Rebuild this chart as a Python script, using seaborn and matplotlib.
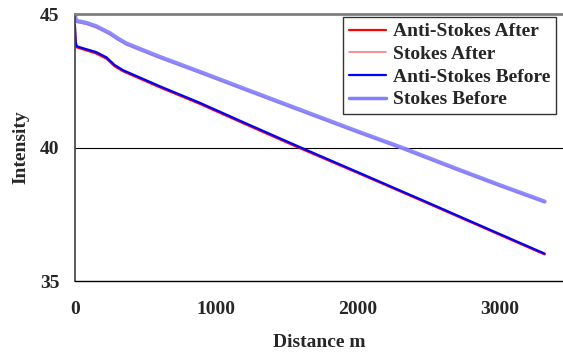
import matplotlib
matplotlib.use("Agg")
import matplotlib.pyplot as plt
import seaborn as sns
import pandas as pd

# Distance along the fibre (m) and intensity readings for each trace
dist_as = [0, 5, 12, 60, 150, 224, 280, 341, 600, 883, 1200, 1590, 2000, 2500, 3000, 3320]
anti_stokes_before = [44.6, 44.0, 43.8, 43.72, 43.58, 43.38, 43.1, 42.9, 42.3, 41.68,
                      40.93, 40.02, 39.08, 37.93, 36.77, 36.03]
anti_stokes_after = [44.55, 43.96, 43.76, 43.68, 43.53, 43.33, 43.05, 42.86, 42.26, 41.64,
                     40.89, 39.98, 39.05, 37.9, 36.74, 36.0]

dist_s = [0, 10, 40, 83, 150, 247, 300, 365, 600, 883, 1200, 1600, 2000, 2300, 2700, 3000, 3320]
stokes_before = [44.95, 44.75, 44.72, 44.67, 44.55, 44.29, 44.1, 43.9, 43.4, 42.84,
                 42.2, 41.4, 40.6, 40.02, 39.2, 38.6, 37.98]
stokes_after = [44.9, 44.7, 44.67, 44.62, 44.5, 44.24, 44.05, 43.85, 43.35, 42.8,
                42.16, 41.36, 40.57, 39.99, 39.17, 38.57, 37.95]

series = ["Anti-Stokes After", "Stokes After", "Anti-Stokes Before", "Stokes Before"]
frames = [
    pd.DataFrame({"d": dist_as, "v": anti_stokes_after, "s": series[0]}),
    pd.DataFrame({"d": dist_s, "v": stokes_after, "s": series[1]}),
    pd.DataFrame({"d": dist_as, "v": anti_stokes_before, "s": series[2]}),
    pd.DataFrame({"d": dist_s, "v": stokes_before, "s": series[3]}),
]
df = pd.concat(frames, ignore_index=True)

sns.set_style("white")
plt.rcParams["font.family"] = ["Liberation Serif", "DejaVu Serif"]
plt.rcParams["font.weight"] = "bold"

FS = 14

palette = {"Anti-Stokes After": "#ff0000", "Stokes After": "#ff7a7a",
           "Anti-Stokes Before": "#0000ff", "Stokes Before": "#8080ff"}
widths = {"Anti-Stokes After": 1.6, "Stokes After": 1.2,
          "Anti-Stokes Before": 1.6, "Stokes Before": 3.0}

fig = plt.figure(figsize=(5.63, 3.54), dpi=100)
ax = fig.add_axes([0.133, 0.206, 0.867, 0.754])

sns.lineplot(data=df, x="d", y="v", hue="s", hue_order=series, palette=palette,
             sort=False, estimator=None, ax=ax, legend=False)
for line, name in zip(ax.get_lines(), series):
    line.set_linewidth(widths[name])
    if name == "Stokes Before":
        line.set_alpha(0.9)

ax.set_xlim(0, 3450)
ax.set_ylim(35, 45)
ax.set_xticks([0, 1000, 2000, 3000])
ax.set_yticks([35, 40, 45])
ax.axhline(40, color="black", lw=0.8, zorder=0)

ax.tick_params(axis="both", direction="in", length=6, width=0.8, labelsize=FS,
               color="black")
ax.tick_params(axis="x", pad=14)
ax.tick_params(axis="y", pad=11)
for lab in ax.get_xticklabels() + ax.get_yticklabels():
    lab.set_fontweight("bold")

ax.spines["right"].set_visible(False)
ax.spines["top"].set_color("#7f7f7f")
ax.spines["top"].set_linewidth(2)
ax.spines["left"].set_color("#404040")
ax.spines["left"].set_linewidth(1.2)
ax.spines["bottom"].set_color("black")
ax.spines["bottom"].set_linewidth(1)

ax.set_xlabel("Distance m", fontsize=FS, fontweight="bold", labelpad=12)
ax.set_ylabel("Intensity", fontsize=FS, fontweight="bold", labelpad=8)

handles = [plt.Line2D([], [], color=palette[n], lw=min(widths[n], 2.5)) for n in series]
leg = fig.legend(handles, series, loc="upper left",
                 bbox_to_anchor=(343 / 563, 1 - 17 / 354),
                 frameon=True, fancybox=False, edgecolor="black",
                 prop={"family": "Liberation Serif", "weight": "bold", "size": FS},
                 handlelength=1.9, handletextpad=0.35, borderpad=0.3,
                 labelspacing=0.26, borderaxespad=0)
leg.get_frame().set_linewidth(1)

fig.savefig("out.png", dpi=100)
